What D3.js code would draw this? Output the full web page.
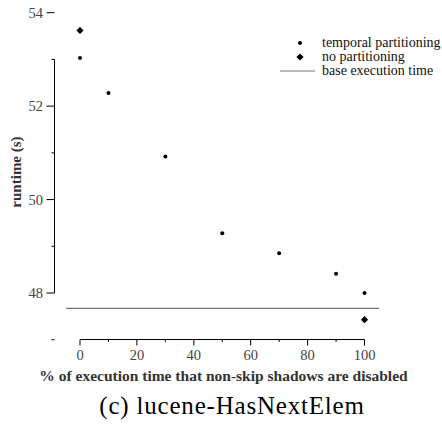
<!DOCTYPE html>
<html lang="en">
<head>
  <meta charset="UTF-8">
  <title>lucene-HasNextElem</title>
  <style>
    body { margin: 0; background: #fff; }
    svg { display: block; font-family: "Liberation Serif", "Times New Roman", serif; }
    .tick-label { fill: #444; font-size: 14.5px; }
  </style>
</head>
<body>
  <div class="container"></div>
  <script src="https://d3js.org/d3.v7.min.js"></script>
  <script>
    // data
    let pct = [0, 10, 30, 50, 70, 90, 100]
    let temporal = [53.03, 52.28, 50.92, 49.28, 48.85, 48.41, 48.0]
    let noPartX = [0, 100]
    let noPart = [53.62, 47.43]
    let baseTime = 47.67
    let yMajor = [48, 50, 52, 54]
    let yMinor = [47, 49, 51, 53]
    let xMajor = [0, 20, 40, 60, 80, 100]
    let xMinor = [10, 30, 50, 70, 90]

    let W = 442, H = 424

    let x = d3.scaleLinear().domain([0, 100]).range([80, 364.5])
    let y = d3.scaleLinear().domain([48, 54]).range([293, 12.7])

    let svg = d3.select('.container').append('svg')
      .attr('width', W)
      .attr('height', H)

    let axisX = 54.5
    let axisY = 339.5

    // y axis (range frame)
    svg.append('line')
      .attr('x1', axisX).attr('x2', axisX)
      .attr('y1', y(53)).attr('y2', y(48))
      .attr('stroke', '#000').attr('stroke-width', 1)
    svg.selectAll('.ymaj').data(yMajor).enter().append('line')
      .attr('x1', axisX - 8).attr('x2', axisX)
      .attr('y1', d => y(d)).attr('y2', d => y(d))
      .attr('stroke', '#000')
    svg.selectAll('.ymin').data(yMinor).enter().append('line')
      .attr('x1', axisX - 3).attr('x2', axisX)
      .attr('y1', d => y(d)).attr('y2', d => y(d))
      .attr('stroke', '#000')
    svg.selectAll('.ylab').data(yMajor).enter().append('text')
      .attr('class', 'tick-label')
      .attr('x', 43).attr('y', d => y(d) + 5)
      .attr('text-anchor', 'end')
      .text(d => d)

    // x axis
    svg.append('line')
      .attr('x1', x(0)).attr('x2', x(100))
      .attr('y1', axisY).attr('y2', axisY)
      .attr('stroke', '#000')
    svg.selectAll('.xmaj').data(xMajor).enter().append('line')
      .attr('x1', d => x(d)).attr('x2', d => x(d))
      .attr('y1', axisY).attr('y2', axisY + 6)
      .attr('stroke', '#000')
    svg.selectAll('.xmin').data(xMinor).enter().append('line')
      .attr('x1', d => x(d)).attr('x2', d => x(d))
      .attr('y1', axisY).attr('y2', axisY + 2.5)
      .attr('stroke', '#000')
    svg.selectAll('.xlab').data(xMajor).enter().append('text')
      .attr('class', 'tick-label')
      .attr('x', d => x(d)).attr('y', 359.5)
      .attr('text-anchor', 'middle')
      .text(d => d)

    // axis titles
    svg.append('text')
      .attr('x', 223.5).attr('y', 381)
      .attr('text-anchor', 'middle')
      .attr('font-weight', 'bold').attr('font-size', 15.5).attr('fill', '#333')
      .text('% of execution time that non-skip shadows are disabled')
    svg.append('text')
      .attr('transform', 'translate(21,172) rotate(-90)')
      .attr('text-anchor', 'middle')
      .attr('font-weight', 'bold').attr('font-size', 15).attr('fill', '#333')
      .text('runtime (s)')

    // base execution time
    svg.append('line')
      .attr('x1', 66).attr('x2', 379)
      .attr('y1', y(baseTime)).attr('y2', y(baseTime))
      .attr('stroke', '#777').attr('stroke-width', 1.2)

    // points
    svg.selectAll('.tp').data(pct).enter().append('circle')
      .attr('cx', d => x(d))
      .attr('cy', (d, i) => y(temporal[i]))
      .attr('r', 2)
      .attr('fill', '#000')

    let diamond = d3.symbol().type(d3.symbolSquare).size(26)
    svg.selectAll('.np').data(noPartX).enter().append('path')
      .attr('d', diamond)
      .attr('transform', (d, i) => `translate(${x(d)},${y(noPart[i])}) rotate(45)`)
      .attr('fill', '#000')

    // legend
    let legend = svg.append('g').attr('font-size', 14).attr('fill', '#111')
    legend.append('circle').attr('cx', 300).attr('cy', 43).attr('r', 2).attr('fill', '#000')
    legend.append('text').attr('x', 322).attr('y', 47).text('temporal partitioning')
    legend.append('path').attr('d', diamond).attr('transform', 'translate(300,57) rotate(45)').attr('fill', '#000')
    legend.append('text').attr('x', 322).attr('y', 61).text('no partitioning')
    legend.append('line').attr('x1', 280).attr('x2', 315).attr('y1', 71).attr('y2', 71)
      .attr('stroke', '#777').attr('stroke-width', 1.2)
    legend.append('text').attr('x', 322).attr('y', 75).text('base execution time')

    // caption
    svg.append('text')
      .attr('x', 232).attr('y', 414)
      .attr('text-anchor', 'middle')
      .attr('font-size', 25).attr('letter-spacing', 0.8).attr('fill', '#000')
      .text('(c) lucene-HasNextElem')
  </script>
</body>
</html>
